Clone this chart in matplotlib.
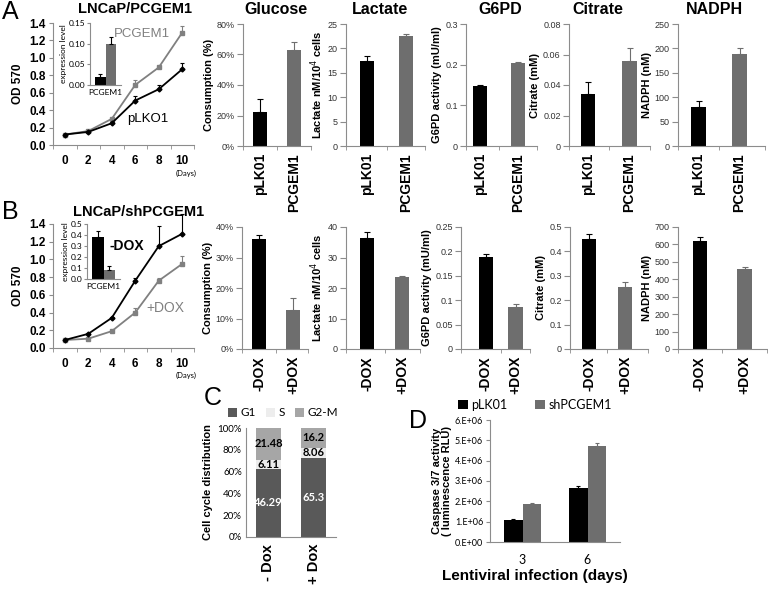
import numpy as np
import matplotlib.pyplot as plt
from matplotlib.ticker import FuncFormatter, FixedLocator

W, H = 768, 590

# ==== Panel A / B growth curves ====
days = [0, 2, 4, 6, 8, 10]
a_plko1 = [0.12, 0.15, 0.25, 0.51, 0.64, 0.87]
a_plko1_err = [0.0, 0.01, 0.01, 0.05, 0.05, 0.07]
a_pcgem1 = [0.12, 0.16, 0.30, 0.69, 0.89, 1.29]
a_pcgem1_err = [0.0, 0.01, 0.01, 0.06, 0.02, 0.08]
a_inset = [0.02, 0.10]
a_inset_err = [0.007, 0.016]

b_minus = [0.09, 0.16, 0.34, 0.76, 1.15, 1.29]
b_minus_err = [0.0, 0.01, 0.01, 0.03, 0.23, 0.22]
b_plus = [0.09, 0.105, 0.19, 0.40, 0.76, 0.95]
b_plus_err = [0.0, 0.01, 0.01, 0.05, 0.03, 0.09]
b_inset = [0.38, 0.08]
b_inset_err = [0.06, 0.04]

# ==== Panel A / B metabolite bars ====
a_groups = ['pLK01', 'PCGEM1']
b_groups = ['-DOX', '+DOX']
metrics = ['Glucose', 'Lactate', 'G6PD', 'Citrate', 'NADPH']
ylabels = ['Consumption (%)', 'Lactate nM/10$^4$ cells', 'G6PD activity (mU/ml)',
           'Citrate (mM)', 'NADPH (nM)']
a_vals = [[0.22, 0.63], [17.5, 22.5], [0.148, 0.205], [0.034, 0.056], [80, 188]]
a_errs = [[0.085, 0.05], [1.0, 0.4], [0.002, 0.002], [0.008, 0.008], [12, 13]]
b_vals = [[0.36, 0.128], [36.5, 23.7], [0.188, 0.087], [0.452, 0.253], [622, 458]]
b_errs = [[0.015, 0.038], [1.7, 0.3], [0.006, 0.005], [0.018, 0.02], [18, 14]]
a_ymax = [0.8, 25, 0.3, 0.08, 250]
a_ystep = [0.2, 5, 0.1, 0.02, 50]
b_ymax = [0.4, 40, 0.25, 0.5, 700]
b_ystep = [0.1, 10, 0.05, 0.1, 100]

# ==== Panel C cell cycle ====
cc_groups = ['- Dox', '+ Dox']
g1 = [46.29, 65.3]
s_phase = [6.11, 8.06]
g2m = [21.48, 16.2]

# ==== Panel D caspase ====
d_days = ['3', '6']
d_plk01 = [1.07e6, 2.68e6]
d_plk01_err = [0.05e6, 0.05e6]
d_sh = [1.85e6, 4.72e6]
d_sh_err = [0.06e6, 0.16e6]

BLACK = '#000000'
GRAY = '#6e6e6e'
LGRAY = '#808080'
AXC = '#8c8c8c'
ARIAL = 'Liberation Sans'
CALI = 'Lato'

plt.rcParams.update({'font.family': ARIAL, 'axes.linewidth': 0.8})

fig = plt.figure(figsize=(W / 100, H / 100), dpi=100)


def px_axes(left, top, right, bottom):
    return fig.add_axes([left / W, 1 - bottom / H, (right - left) / W, (bottom - top) / H],
                        facecolor='none')


def ftext(x, y, s, **kw):
    kw.setdefault('ha', 'center')
    kw.setdefault('va', 'center')
    fig.text(x / W, 1 - y / H, s, **kw)


def excel_style(ax):
    for s in ['top', 'right']:
        ax.spines[s].set_visible(False)
    for s in ['left', 'bottom']:
        ax.spines[s].set_color(AXC)
    ax.tick_params(color=AXC, length=3, width=0.8, direction='out')


def up_err(ax, x, y, e, color, cap=2.0):
    ax.errorbar(x, y, yerr=[np.zeros(len(e)), e], fmt='none', ecolor=color,
                elinewidth=0.8, capsize=cap, capthick=0.8, clip_on=False)


def num_fmt(v, pos=None):
    return '{:g}'.format(round(v, 6))


def growth(box, y1, e1, y2, e2, c2, m2):
    ax = px_axes(*box)
    excel_style(ax)
    ax.plot(days, y2, color=c2, marker=m2, ms=3.5, lw=1.3, clip_on=False, zorder=3)
    ax.plot(days, y1, color=BLACK, marker='D', ms=2.5, lw=1.3, clip_on=False, zorder=3)
    up_err(ax, days, y1, e1, BLACK, 1.5)
    up_err(ax, days, y2, e2, c2, 1.5)
    ax.set_xlim(-1, 11)
    ax.set_ylim(0, 1.4)
    ax.set_yticks(np.arange(0, 1.41, 0.2))
    ax.yaxis.set_major_formatter(FuncFormatter(lambda v, p: '%.1f' % v))
    ax.set_xticks(days)
    ax.xaxis.set_minor_locator(FixedLocator(np.arange(-1, 12, 2)))
    ax.tick_params(axis='x', which='major', length=0, pad=7)
    ax.tick_params(axis='x', which='minor', length=3, color=AXC)
    ax.tick_params(axis='y', pad=2)
    for t in ax.get_xticklabels() + ax.get_yticklabels():
        t.set_fontweight('bold')
        t.set_fontsize(8.5)
    ax.set_ylabel('OD 570', fontweight='bold', fontsize=8.5, labelpad=4)
    return ax


def inset(box, vals, errs, ymax, step, fmt):
    ax = px_axes(*box)
    excel_style(ax)
    ax.bar([-0.17, 0.17], vals, width=0.34, color=[BLACK, GRAY])
    up_err(ax, [-0.17, 0.17], vals, errs, BLACK, 1.5)
    ax.set_xlim(-0.5, 0.5)
    ax.set_ylim(0, ymax)
    ax.set_yticks(np.arange(0, ymax + 1e-9, step))
    ax.yaxis.set_major_formatter(FuncFormatter(lambda v, p: fmt % v))
    ax.set_xticks([0])
    ax.set_xticklabels(['PCGEM1'], fontfamily=CALI, fontsize=6)
    ax.tick_params(axis='x', length=0, pad=3)
    ax.tick_params(axis='y', labelsize=6, length=2, pad=1.5)
    for t in ax.get_yticklabels():
        t.set_fontfamily(CALI)
    ax.set_ylabel('expression level', fontfamily=CALI, fontsize=6, labelpad=1)
    return ax


# ==== Panel A ====
ftext(10, 12, 'A', fontsize=18)
ftext(135, 9, 'LNCaP/PCGEM1', fontsize=10.5, fontweight='bold')
growth((53, 23, 194, 145), a_plko1, a_plko1_err, a_pcgem1, a_pcgem1_err, LGRAY, 's')
inset((90, 23, 121, 85), a_inset, a_inset_err, 0.15, 0.05, '%.2f')
ftext(142, 34, 'PCGEM1', fontsize=9.5, color=LGRAY)
ftext(148, 119, 'pLKO1', fontsize=9.5)
ftext(186, 173, '(Days)', fontsize=5.5, fontfamily=CALI)

# ==== Panel B ====
ftext(10, 212, 'B', fontsize=18)
ftext(139, 212, 'LNCaP/shPCGEM1', fontsize=10.5, fontweight='bold')
growth((53, 224, 194, 348), b_minus, b_minus_err, b_plus, b_plus_err, LGRAY, 's')
inset((87, 224, 120, 279), b_inset, b_inset_err, 0.5, 0.1, '%.1f')
ftext(127, 246, '-DOX', fontsize=10, fontweight='bold')
ftext(165, 308, '+DOX', fontsize=10, color=LGRAY)
ftext(186, 375, '(Days)', fontsize=5.5, fontfamily=CALI)

# bar chart layout: y-axis x, right end, bar centre 1, bar centre 2
a_boxes = [(243, 311, 260, 294), (346, 425, 367, 406), (466, 537, 480, 518),
           (569, 650, 588, 629.5), (678, 765, 698.5, 739.5)]
b_boxes = [(242, 308, 259, 293), (346, 420, 367, 402), (461, 530, 486, 515.5),
           (570, 648, 589, 625), (678, 767, 700, 744.5)]
title_x = [276, 380, 500, 598, 714]


def metab(box, top, bottom, vals, errs, ymax, step, groups, ylabel, pct):
    L, R, c0, c1 = box
    s = c1 - c0
    ax = px_axes(L, top, R, bottom)
    excel_style(ax)
    bw = 14.5 / s
    ax.bar([0, 1], vals, width=bw, color=[BLACK, GRAY])
    up_err(ax, [0], vals[:1], errs[:1], BLACK, 2.5)
    up_err(ax, [1], vals[1:], errs[1:], GRAY, 2.5)
    ax.set_xlim((L - c0) / s, 1 + (R - c1) / s)
    ax.set_ylim(0, ymax)
    ax.set_yticks(np.arange(0, ymax + 1e-9, step))
    if pct:
        ax.yaxis.set_major_formatter(FuncFormatter(lambda v, p: '%d%%' % round(v * 100)))
    else:
        ax.yaxis.set_major_formatter(FuncFormatter(num_fmt))
    ax.tick_params(axis='y', labelsize=6.5, labelcolor='#333333', length=4, pad=2)
    ax.set_xticks([0, 1])
    ax.set_xticklabels(groups, rotation=90, fontsize=10, fontweight='bold')
    ax.xaxis.set_minor_locator(FixedLocator([ax.get_xlim()[0], 0.5, ax.get_xlim()[1]]))
    ax.tick_params(axis='x', which='major', length=0, pad=5)
    ax.tick_params(axis='x', which='minor', length=3, color=AXC)
    ax.set_ylabel(ylabel, fontsize=8, fontweight='bold', labelpad=2)
    return ax


for i in range(5):
    metab(a_boxes[i], 24, 146, a_vals[i], a_errs[i], a_ymax[i], a_ystep[i],
          a_groups, ylabels[i], i == 0)
    ftext(title_x[i], 10, metrics[i], fontsize=11.5, fontweight='bold')
    metab(b_boxes[i], 227, 349, b_vals[i], b_errs[i], b_ymax[i], b_ystep[i],
          b_groups, ylabels[i], i == 0)

# ==== Panel C ====
ftext(213, 398, 'C', fontsize=18)
tot = np.array(g1) + np.array(s_phase) + np.array(g2m)
p_g1 = np.array(g1) / tot * 100
p_s = np.array(s_phase) / tot * 100
p_g2 = np.array(g2m) / tot * 100
axc = px_axes(246, 428, 336, 537)
excel_style(axc)
bw = 0.56
axc.bar([0, 1], p_g1, width=bw, color='#595959', label='G1')
axc.bar([0, 1], p_s, width=bw, bottom=p_g1, color='#ededed', label='S')
axc.bar([0, 1], p_g2, width=bw, bottom=p_g1 + p_s, color='#a6a6a6', label='G2-M')
for i in range(2):
    axc.text(i, p_g1[i] / 2, '%g' % g1[i], ha='center', va='center', color='white',
             fontsize=8, fontweight='bold', fontfamily=CALI)
    axc.text(i, p_g1[i] + p_s[i] / 2, '%g' % s_phase[i], ha='center', va='center',
             fontsize=8, fontweight='bold', fontfamily=CALI)
    axc.text(i, p_g1[i] + p_s[i] + p_g2[i] / 2, '%g' % g2m[i], ha='center', va='center',
             fontsize=8, fontweight='bold', fontfamily=CALI)
axc.set_xlim(-0.5, 1.5)
axc.set_ylim(0, 100)
axc.set_yticks(np.arange(0, 101, 20))
axc.yaxis.set_major_formatter(FuncFormatter(lambda v, p: '%d%%' % v))
axc.tick_params(axis='y', labelsize=7, length=0, pad=3)
for t in axc.get_yticklabels():
    t.set_fontfamily(CALI)
axc.set_xticks([0, 1])
axc.set_xticklabels(cc_groups, rotation=90, fontsize=10.5, fontweight='bold')
axc.tick_params(axis='x', length=0, pad=5)
axc.set_ylabel('Cell cycle distribution', fontsize=8, fontweight='bold', labelpad=3)
axc.legend(loc='center', bbox_to_anchor=(283 / W, 1 - 413 / H), bbox_transform=fig.transFigure,
           ncol=3, frameon=False, handlelength=0.8, handleheight=0.8, handletextpad=0.3,
           columnspacing=0.8, prop={'family': CALI, 'size': 8.5})

# ==== Panel D ====
ftext(418, 421, 'D', fontsize=18)
axd = px_axes(490, 420, 620, 542)
excel_style(axd)
xd = np.arange(len(d_days))
axd.bar(xd - 0.14, d_plk01, width=0.28, color=BLACK, label='pLK01')
axd.bar(xd + 0.14, d_sh, width=0.28, color=GRAY, label='shPCGEM1')
up_err(axd, xd - 0.14, d_plk01, d_plk01_err, BLACK, 1.5)
up_err(axd, xd + 0.14, d_sh, d_sh_err, GRAY, 1.5)
axd.set_xlim(-0.5, 1.5)
axd.set_ylim(0, 6e6)
axd.set_yticks(np.arange(0, 6.01e6, 1e6))
axd.yaxis.set_major_formatter(FuncFormatter(lambda v, p: '%d.E+%s' % (round(v / 1e6), '06' if v else '00')))
axd.tick_params(axis='y', labelsize=6.5, length=3, pad=2)
for t in axd.get_yticklabels():
    t.set_fontfamily(CALI)
axd.set_xticks(xd)
axd.set_xticklabels(d_days, fontsize=9, fontfamily=CALI)
axd.tick_params(axis='x', length=0, pad=9)
axd.set_ylabel('Caspase 3/7 activity\n( luminescence RLU)', fontsize=8, fontweight='bold',
               labelpad=2, linespacing=0.95)
axd.set_xlabel('Lentiviral infection (days)', fontsize=11, fontweight='bold', labelpad=1)
axd.xaxis.set_label_coords((535 - 490) / 130, -0.22)
axd.legend(loc='center', bbox_to_anchor=(535 / W, 1 - 405 / H), bbox_transform=fig.transFigure,
           ncol=2, frameon=False, handlelength=0.8, handleheight=0.8, handletextpad=0.3,
           columnspacing=2.2, prop={'family': CALI, 'size': 9})

fig.savefig('out.png', dpi=100)
